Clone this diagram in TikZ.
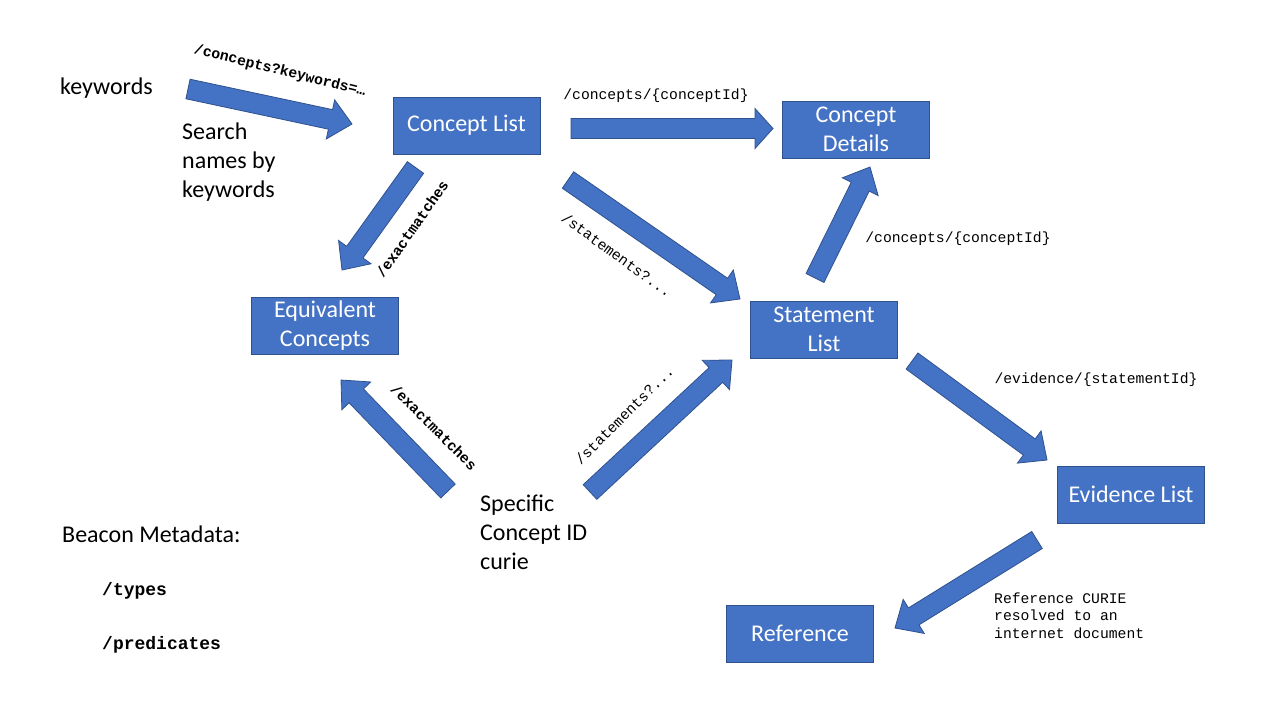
\documentclass[tikz,border=0pt]{standalone}
\usepackage{fontspec}
\setmainfont{Carlito}
\setmonofont{Liberation Mono}
\usetikzlibrary{calc}
\definecolor{boxblue}{HTML}{4472C4}
\definecolor{boxedge}{HTML}{2F528F}
% block arrow from tail coordinate #2 to tip coordinate #3, head length #1
\newcommand\blockarrow[3][22]{%
  \coordinate (#2-hb) at ($(#3)!#1pt!(#2)$);
  \draw[barrow] ($(#2)!10pt!90:(#3)$) -- ($(#2-hb)!10pt!90:(#3)$)
    -- ($(#2-hb)!20pt!90:(#3)$) -- (#3) -- ($(#2-hb)!20pt!-90:(#3)$)
    -- ($(#2-hb)!10pt!-90:(#3)$) -- ($(#2)!10pt!-90:(#3)$) -- cycle;}
\tikzset{
  box/.style={fill=boxblue, draw=boxedge, line width=0.8pt, text=white,
    minimum width=147pt, minimum height=57pt, align=center, inner sep=0pt,
    font=\fontsize{24}{29}\selectfont},
  plain/.style={font=\fontsize{24}{29}\selectfont, align=left, inner sep=0pt, anchor=west},
  code/.style={font=\ttfamily\fontsize{14.7}{17.5}\selectfont, inner sep=0pt},
  codeb/.style={font=\ttfamily\bfseries\fontsize{14.7}{17.5}\selectfont, inner sep=0pt},
  codebig/.style={font=\ttfamily\bfseries\fontsize{18}{21}\selectfont, inner sep=0pt, anchor=west},
  barrow/.style={fill=boxblue, draw=boxedge, line width=0.8pt, line join=miter}
}
\begin{document}
\begin{tikzpicture}[x=1pt,y=-1pt]
\path[use as bounding box, fill=white] (0,0) rectangle (1280,720);

% boxes
\node[box] (cl)  at (466.5,125.5) {Concept List};
\node[box] (cd)  at (856,129.5)   {Concept\\Details};
\node[box] (eq)  at (325,326)     {Equivalent\\Concepts};
\node[box] (sl)  at (824,329.5)   {Statement\\List};
\node[box] (ev)  at (1131,494.5)  {Evidence List};
\node[box] (ref) at (800,633.5)   {Reference};

% plain texts
\node[plain] (kw) at (60,88) {keywords};
\node[plain] (search) at (182,162) {Search\\names by\\keywords};
\node[plain] (spec) at (480,532) {Specific\\Concept ID\\curie};
\node[plain] (meta) at (62,534.5) {Beacon Metadata:};
\node[codebig] (types) at (102,591) {/types};
\node[codebig] (preds) at (102,645) {/predicates};

% arrow end points
\coordinate (a1t) at (188,89);    \coordinate (a1h) at (352,124);
\coordinate (a2t) at (571,128.5); \coordinate (a2h) at (773,128.5);
\coordinate (a3t) at (415.5,167.5); \coordinate (a3h) at (342,270);
\coordinate (a4t) at (568,180);   \coordinate (a4h) at (740,299);
\coordinate (a5t) at (815,278);   \coordinate (a5h) at (870,167);
\coordinate (a6t) at (448,491);   \coordinate (a6h) at (341,380);
\coordinate (a7t) at (590,492);   \coordinate (a7h) at (732,360);
\coordinate (a8t) at (912,361);   \coordinate (a8h) at (1047,460);
\coordinate (a9t) at (1037,540);  \coordinate (a9h) at (895,628);

\blockarrow{a1t}{a1h}
\blockarrow[18]{a2t}{a2h}
\blockarrow{a3t}{a3h}
\blockarrow{a4t}{a4h}
\blockarrow{a5t}{a5h}
\blockarrow{a6t}{a6h}
\blockarrow{a7t}{a7h}
\blockarrow{a8t}{a8h}
\blockarrow{a9t}{a9h}

% arrow labels
\node[codeb, rotate=-14] (l1) at (280,71) {/concepts?keywords=…};
\node[code] (l2) at (656,96) {/concepts/\{conceptId\}};
\node[codeb, rotate=55] (l3) at (412,229) {/exactmatches};
\node[code, rotate=-36] (l4) at (617,255) {/statements?...};
\node[code] (l5) at (958,239) {/concepts/\{conceptId\}};
\node[codeb, rotate=-45] (l6) at (434,427) {/exactmatches};
\node[code, rotate=45] (l7) at (624,415) {/statements?...};
\node[code] (l8) at (1096,380) {/evidence/\{statementId\}};
\node[code, anchor=west, align=left] (l9) at (994,615.5) {Reference CURIE\\resolved to an\\internet document};
\end{tikzpicture}
\end{document}
